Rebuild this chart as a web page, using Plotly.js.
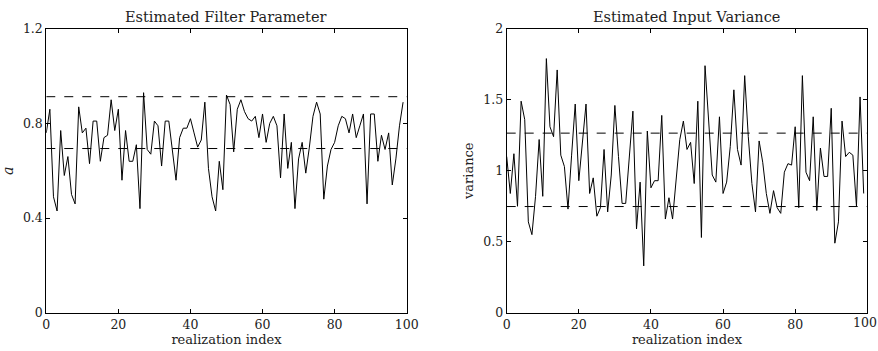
<!DOCTYPE html>
<html>
<head>
<meta charset="utf-8">
<script src="https://cdn.plot.ly/plotly-3.0.1.min.js"></script>
<style>html,body{margin:0;padding:0;background:#fff;}#chart{width:878px;height:351px;}</style>
</head>
<body>
<div id="chart"></div>
<script>
// realization indices 0..99
const index = Array.from({length: 100}, (_, i) => i);

const filterParam = [
  0.76, 0.86, 0.49, 0.43, 0.77, 0.58, 0.66, 0.50, 0.46, 0.87,
  0.76, 0.78, 0.63, 0.81, 0.81, 0.64, 0.74, 0.75, 0.90, 0.77,
  0.86, 0.56, 0.77, 0.64, 0.64, 0.71, 0.44, 0.93, 0.69, 0.67,
  0.81, 0.79, 0.62, 0.81, 0.81, 0.69, 0.56, 0.74, 0.78, 0.78,
  0.82, 0.76, 0.70, 0.73, 0.89, 0.61, 0.49, 0.43, 0.64, 0.52,
  0.92, 0.88, 0.68, 0.86, 0.90, 0.85, 0.82, 0.81, 0.83, 0.74,
  0.84, 0.72, 0.80, 0.83, 0.79, 0.57, 0.84, 0.61, 0.72, 0.44,
  0.65, 0.72, 0.59, 0.70, 0.83, 0.89, 0.84, 0.48, 0.62, 0.69,
  0.72, 0.79, 0.83, 0.82, 0.76, 0.84, 0.74, 0.79, 0.84, 0.46,
  0.84, 0.84, 0.64, 0.75, 0.69, 0.76, 0.54, 0.65, 0.79, 0.89
];

const inputVariance = [
  1.10, 0.84, 1.12, 0.75, 1.49, 1.36, 0.64, 0.55, 0.82, 1.22,
  0.82, 1.79, 1.31, 1.24, 1.71, 1.11, 1.03, 0.73, 1.11, 1.47,
  0.93, 1.22, 1.47, 0.84, 0.95, 0.68, 0.74, 1.15, 0.71, 0.97,
  1.46, 1.10, 0.77, 0.77, 1.08, 1.42, 0.59, 0.92, 0.33, 1.28,
  0.88, 0.93, 0.93, 1.39, 0.66, 0.81, 0.66, 0.93, 1.22, 1.35,
  1.15, 1.20, 0.91, 1.49, 0.53, 1.74, 1.32, 0.97, 0.92, 1.38,
  0.84, 0.92, 1.17, 1.57, 1.15, 1.04, 1.67, 1.24, 0.91, 0.71,
  1.21, 1.06, 0.84, 0.70, 0.86, 0.74, 0.70, 0.99, 1.05, 1.04,
  1.31, 0.74, 1.67, 0.99, 0.93, 1.38, 0.72, 1.16, 0.96, 0.96,
  1.44, 0.49, 0.64, 1.35, 1.10, 1.13, 1.11, 0.75, 1.52, 0.84
];

// confidence band lines (dashed)
const bandX = [0, 100];
const filterBand = [0.913, 0.694];
const varianceBand = [1.265, 0.748];

const xTicks = [0, 20, 40, 60, 80, 100];
const xTickText = ['0', '20', '40', '60', '80', '100'];
const aTicks = [0, 0.4, 0.8, 1.2];
const aTickText = ['0', '0.4', '0.8', '1.2'];
const vTicks = [0, 0.5, 1, 1.5, 2];
const vTickText = ['0', '0.5', '1', '1.5', '2'];

const FONT = 'DejaVu Serif, serif';
const TXT = '#222';
const lineStyle = {color: '#000', width: 1};
const dashStyle = {color: '#000', width: 1, dash: 'dash'};

const traces = [
  {x: index, y: filterParam, mode: 'lines', line: lineStyle, xaxis: 'x', yaxis: 'y', hoverinfo: 'skip'},
  {x: bandX, y: [filterBand[0], filterBand[0]], mode: 'lines', line: dashStyle, xaxis: 'x', yaxis: 'y'},
  {x: bandX, y: [filterBand[1], filterBand[1]], mode: 'lines', line: dashStyle, xaxis: 'x', yaxis: 'y'},
  {x: index, y: inputVariance, mode: 'lines', line: lineStyle, xaxis: 'x2', yaxis: 'y2', hoverinfo: 'skip'},
  {x: bandX, y: [varianceBand[0], varianceBand[0]], mode: 'lines', line: dashStyle, xaxis: 'x2', yaxis: 'y2'},
  {x: bandX, y: [varianceBand[1], varianceBand[1]], mode: 'lines', line: dashStyle, xaxis: 'x2', yaxis: 'y2'}
];

const axisCommon = {
  showgrid: false, zeroline: false, showline: true, linecolor: '#000', linewidth: 1,
  mirror: 'ticks', ticks: 'inside', ticklen: 4, tickcolor: '#000',
  tickfont: {family: FONT, size: 12.5, color: TXT}
};

const xDomL = [0.0527, 0.4632];
const xDomR = [0.5771, 0.9878];
const yDom = [0.109, 0.918];

const lastTick = xTicks.length - 1;

const layout = {
  width: 878, height: 351,
  margin: {l: 0, r: 0, t: 0, b: 0},
  paper_bgcolor: '#fff', plot_bgcolor: '#fff',
  showlegend: false,
  font: {family: FONT, size: 12, color: TXT},
  xaxis: Object.assign({}, axisCommon, {domain: xDomL, range: [0, 100], tickvals: xTicks, ticktext: xTickText,
    anchor: 'y', title: {text: 'realization index', font: {family: FONT, size: 13, color: TXT}, standoff: 0}}),
  yaxis: Object.assign({}, axisCommon, {domain: yDom, range: [0, 1.2], tickvals: aTicks, ticktext: aTickText,
    anchor: 'x', title: {text: '<i>a</i>', font: {family: FONT, size: 14, color: TXT}, standoff: 6}}),
  xaxis2: Object.assign({}, axisCommon, {domain: xDomR, range: [0, 100], tickvals: xTicks,
    ticktext: xTickText.map((t, i) => i === lastTick ? ' ' : t),
    anchor: 'y2', title: {text: 'realization index', font: {family: FONT, size: 13, color: TXT}, standoff: 0}}),
  yaxis2: Object.assign({}, axisCommon, {domain: yDom, range: [0, 2], tickvals: vTicks, ticktext: vTickText,
    anchor: 'x2', title: {text: 'variance', font: {family: FONT, size: 13, color: TXT}, standoff: 6}}),
  annotations: [
    {text: 'Estimated Filter Parameter', xref: 'paper', yref: 'paper', x: (xDomL[0] + xDomL[1]) / 2, y: yDom[1],
     xanchor: 'center', yanchor: 'bottom', yshift: 2, showarrow: false, font: {family: FONT, size: 14.5, color: TXT}},
    {text: 'Estimated Input Variance', xref: 'paper', yref: 'paper', x: (xDomR[0] + xDomR[1]) / 2, y: yDom[1],
     xanchor: 'center', yanchor: 'bottom', yshift: 2, showarrow: false, font: {family: FONT, size: 14.5, color: TXT}},
    // last x tick label of the right plot, which sits at the page edge
    {text: xTickText[lastTick], xref: 'paper', yref: 'paper', x: 1, y: yDom[0],
     xanchor: 'right', yanchor: 'top', xshift: 0, yshift: -1, borderpad: 0, showarrow: false,
     font: {family: FONT, size: 12.5, color: TXT}}
  ]
};

Plotly.newPlot('chart', traces, layout, {staticPlot: true, displayModeBar: false});
</script>
</body>
</html>
